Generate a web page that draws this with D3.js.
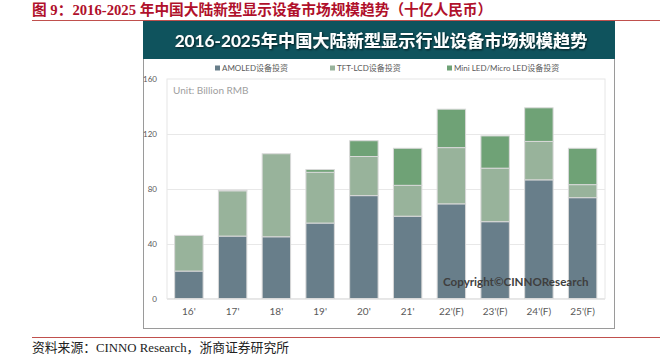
<!DOCTYPE html>
<html><head><meta charset="utf-8">
<script src="https://cdn.jsdelivr.net/npm/d3@7"></script>
<style>body{margin:0;background:#fff}svg{display:block}</style>
</head><body>
<svg id="c" width="668" height="364"></svg>
<script>
const categories = ["16'","17'","18'","19'","20'","21'","22'(F)","23'(F)","24'(F)","25'(F)"];
const amoled = [20, 45.5, 45, 55, 75, 60, 69, 56, 86.5, 73.5];
const tftlcd = [26, 33, 60.5, 37, 28.5, 22.5, 41, 39, 28, 9.5];
const miniled = [0, 0.5, 0, 2, 11.5, 27, 28, 23.5, 24.5, 26.5];
const seriesNames = ["AMOLED设备投资", "TFT-LCD设备投资", "Mini LED/Micro LED设备投资"];
const yTicks = [0, 40, 80, 120, 160];

const colors = ["#687e8a", "#98b39b", "#6fa276"];
const cjk = "'Noto Sans CJK SC'";
const latin = "Lato, " + cjk + ", sans-serif";
const svg = d3.select("#c");

// top title
svg.append("text").attr("x", 32).attr("y", 15)
  .attr("fill", "#b0102b").attr("font-weight", "bold").attr("font-size", 14.7)
  .attr("font-family", "'Liberation Serif', 'Noto Sans CJK SC', serif")
  .text("图 9：2016-2025 年中国大陆新型显示设备市场规模趋势（十亿人民币）");
svg.append("line").attr("x1", 32).attr("x2", 660).attr("y1", 20.5).attr("y2", 20.5)
  .attr("stroke", "#c0504d").attr("stroke-width", 1.2);

// outer frame
svg.append("rect").attr("x", 143.5).attr("y", 21.5).attr("width", 471).attr("height", 307)
  .attr("fill", "#fff").attr("stroke", "#9a9a9a").attr("stroke-width", 1);
// banner
svg.append("rect").attr("x", 143).attr("y", 21).attr("width", 472).attr("height", 38).attr("fill", "#0f535d");
const defs = svg.append("defs");
const f = defs.append("filter").attr("id", "sh").attr("x", "-5%").attr("y", "-30%").attr("width", "110%").attr("height", "160%");
f.append("feDropShadow").attr("dx", 1).attr("dy", 1).attr("stdDeviation", 1).attr("flood-color", "#000").attr("flood-opacity", 0.7);
svg.append("text").attr("x", 381).attr("y", 46.5).attr("text-anchor", "middle")
  .attr("fill", "#fff").attr("font-weight", "bold").attr("font-size", 17.2)
  .attr("font-family", latin).attr("filter", "url(#sh)")
  .text("2016-2025年中国大陆新型显示行业设备市场规模趋势");

// legend
const legX = [215, 330, 447];
seriesNames.forEach((n, i) => {
  svg.append("rect").attr("x", legX[i]).attr("y", 65.5).attr("width", 5).attr("height", 5).attr("fill", colors[i]);
  svg.append("text").attr("x", legX[i] + 7).attr("y", 71).attr("font-size", 8)
    .attr("fill", "#595959").attr("font-family", latin).text(n);
});

// scales
const x = d3.scaleBand().domain(categories).range([167, 604.5]).paddingInner(0.35).paddingOuter(0.175);
const y = d3.scaleLinear().domain([0, 160]).range([298.5, 79]);

// plot box
svg.append("rect").attr("x", 167).attr("y", 79).attr("width", 438).attr("height", 219.5)
  .attr("fill", "none").attr("stroke", "#e6e6e6").attr("stroke-width", 1);
// grid
svg.append("g").selectAll("line").data(yTicks.slice(0, 4)).join("line")
  .attr("x1", 167).attr("x2", 605).attr("y1", d => Math.round(y(d)) + 0.5).attr("y2", d => Math.round(y(d)) + 0.5)
  .attr("stroke", "#e8e8e8").attr("stroke-width", 1);

// y axis labels
const yAxis = d3.axisLeft(y).tickValues(yTicks).tickSize(0).tickPadding(0);
const ya = svg.append("g").attr("transform", "translate(157,0)").call(yAxis);
ya.select(".domain").remove();
ya.selectAll("text").attr("font-size", 8).attr("fill", "#595959").attr("font-family", latin);

// unit
svg.append("text").attr("x", 173).attr("y", 94).attr("font-size", 10).attr("fill", "#a0a0a0")
  .attr("font-family", latin).text("Unit: Billion RMB");

// bars
const rows = categories.map((c, i) => ({cat: c, a: amoled[i], t: tftlcd[i], m: miniled[i]}));
const stack = d3.stack().keys(["a", "t", "m"])(rows);
svg.append("g").selectAll("g").data(stack).join("g").attr("fill", (d, i) => colors[i])
  .selectAll("rect").data(d => d.filter(s => s[1] - s[0] > 0)).join("rect")
  .attr("x", d => x(d.data.cat)).attr("width", x.bandwidth())
  .attr("y", d => y(d[1])).attr("height", d => y(d[0]) - y(d[1]))
  .attr("stroke", "#d9d9d9").attr("stroke-width", 1);

// x axis labels
const xAxis = d3.axisBottom(x).tickSize(0).tickPadding(0);
const xa = svg.append("g").attr("transform", "translate(0,308)").call(xAxis);
xa.select(".domain").remove();
xa.selectAll("text").attr("font-size", 10).attr("fill", "#595959").attr("font-family", latin);

// copyright
svg.append("text").attr("x", 443).attr("y", 285.5).attr("font-size", 11.6).attr("font-weight", "bold")
  .attr("fill", "#3f3f3f").attr("font-family", latin).text("Copyright©CINNOResearch");

// bottom rule & source
svg.append("line").attr("x1", 32).attr("x2", 660).attr("y1", 337.5).attr("y2", 337.5)
  .attr("stroke", "#c0504d").attr("stroke-width", 1.2);
svg.append("text").attr("x", 32).attr("y", 352).attr("font-size", 12.8).attr("fill", "#222")
  .attr("font-family", "'Liberation Serif', 'Noto Sans CJK SC', serif")
  .text("资料来源：CINNO Research，浙商证券研究所");
</script>
</body></html>
